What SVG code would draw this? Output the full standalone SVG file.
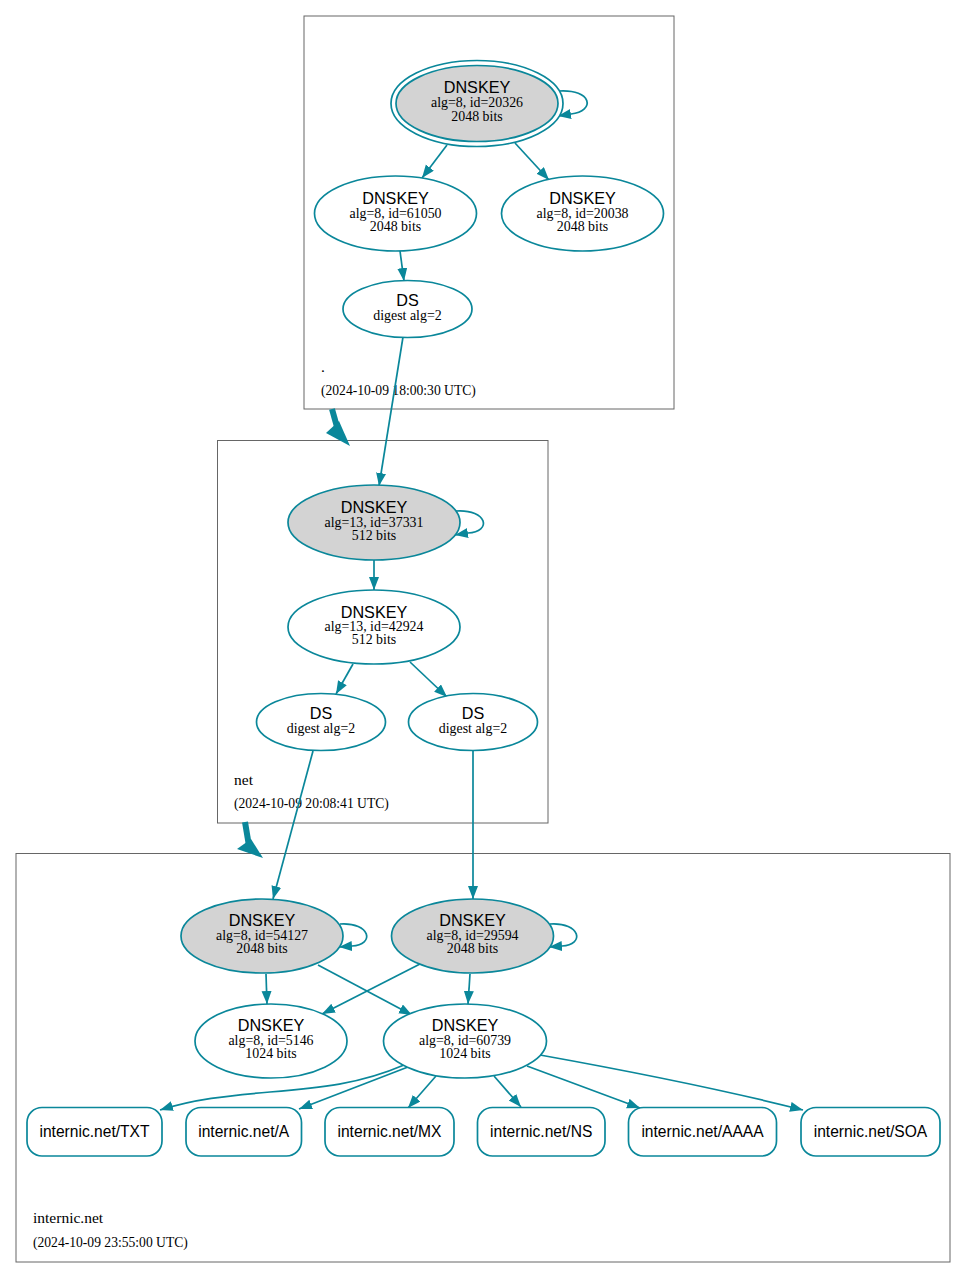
<svg xmlns="http://www.w3.org/2000/svg" width="967" height="1278" viewBox="0 0 967 1278">
<defs>
<style>
.cl{fill:none;stroke:#666;stroke-width:1}
.n{fill:#fff;stroke:#0a879a;stroke-width:1.7}
.k{fill:#d3d3d3;stroke:#0a879a;stroke-width:1.7}
.e{fill:none;stroke:#0a879a;stroke-width:1.7;marker-end:url(#ah)}
.t1{font-family:"Liberation Sans",Arial,sans-serif;font-size:16.2px;fill:#000;text-anchor:middle}
.t2{font-family:"Liberation Serif","Times New Roman",serif;font-size:13.9px;fill:#000;text-anchor:middle}
.tr{font-family:"Liberation Sans",Arial,sans-serif;font-size:15.6px;fill:#000;text-anchor:middle}
.lz{font-family:"Liberation Serif","Times New Roman",serif;font-size:15.5px;fill:#000}
.ld{font-family:"Liberation Serif","Times New Roman",serif;font-size:13.6px;fill:#000}
.big{fill:#0a879a;stroke:none}
</style>
<marker id="ah" markerUnits="userSpaceOnUse" markerWidth="15" markerHeight="11" refX="13" refY="5" orient="auto">
<path d="M0,0 L13,5 L0,10 z" fill="#0a879a"/>
</marker>
</defs>
<rect width="967" height="1278" fill="#fff"/>

<g id="cluster-root">
<rect class="cl" x="304" y="16" width="370" height="393"/>
<text class="lz" x="321" y="372">.</text>
<text class="ld" x="321" y="395">(2024-10-09 18:00:30 UTC)</text>
</g>
<g id="cluster-net">
<rect class="cl" x="217.5" y="440.5" width="330.5" height="382.5"/>
<text class="lz" x="234" y="785">net</text>
<text class="ld" x="234" y="808">(2024-10-09 20:08:41 UTC)</text>
</g>
<g id="cluster-internic">
<rect class="cl" x="16" y="853.5" width="934" height="408.5"/>
<text class="lz" x="33" y="1223">internic.net</text>
<text class="ld" x="33" y="1247">(2024-10-09 23:55:00 UTC)</text>
</g>

<g id="connectors">
<path class="e" d="M559,91 C592,89 596,111 571,114 L558,116"/>
<path class="e" d="M447,145 L422,178"/>
<path class="e" d="M515,143 L549,180"/>
<path class="e" d="M400,251 L404,281"/>
<path class="e" d="M403,337 L379,486"/>
<path class="e" d="M456,511 C488,509 492,532 468,533 L455,535"/>
<path class="e" d="M374,560 L374,590"/>
<path class="e" d="M353,664 L336,694"/>
<path class="e" d="M410,662 L447,697"/>
<path class="e" d="M313,751 L273,899"/>
<path class="e" d="M473,751 L473,899"/>
<path class="e" d="M340,924 C371,922 375,945 352,946 L339,947"/>
<path class="e" d="M550,924 C581,922 585,945 562,946 L549,947"/>
<path class="e" d="M266,974 L267,1004"/>
<path class="e" d="M318,965 L412,1015"/>
<path class="e" d="M420,964 L322,1014"/>
<path class="e" d="M470,974 L468,1004"/>
<path class="e" d="M404,1065 C360,1084 320,1088 270,1092 C225,1096 195,1099 160,1110"/>
<path class="e" d="M408,1067 L299,1109"/>
<path class="e" d="M436,1076 L408,1108"/>
<path class="e" d="M494,1076 L521,1107"/>
<path class="e" d="M527,1066 L640,1108"/>
<path class="e" d="M540,1055 C640,1073 720,1089 803,1110"/>
<path d="M332,409 L337,427" stroke="#0a879a" stroke-width="6" fill="none"/>
<polygon class="big" points="326,433 339,421 350,446"/>
<path d="M245,822 L248.5,843" stroke="#0a879a" stroke-width="6" fill="none"/>
<polygon class="big" points="237,849 251,839 263,858"/>
</g>

<g id="dnskey-20326">
<ellipse class="n" cx="477" cy="103.5" rx="86" ry="43"/>
<ellipse class="k" cx="477" cy="103.5" rx="81" ry="38"/>
<text class="t1" x="477" y="93">DNSKEY</text>
<text class="t2" x="477" y="107">alg=8, id=20326</text>
<text class="t2" x="477" y="120.5">2048 bits</text>
</g>
<g id="dnskey-61050">
<ellipse class="n" cx="395.5" cy="213.5" rx="81" ry="37.5"/>
<text class="t1" x="395.5" y="203.5">DNSKEY</text>
<text class="t2" x="395.5" y="217.5">alg=8, id=61050</text>
<text class="t2" x="395.5" y="230.5">2048 bits</text>
</g>
<g id="dnskey-20038">
<ellipse class="n" cx="582.5" cy="213.5" rx="81" ry="37.5"/>
<text class="t1" x="582.5" y="203.5">DNSKEY</text>
<text class="t2" x="582.5" y="217.5">alg=8, id=20038</text>
<text class="t2" x="582.5" y="230.5">2048 bits</text>
</g>
<g id="ds-root">
<ellipse class="n" cx="407.5" cy="309" rx="64.5" ry="28.5"/>
<text class="t1" x="407.5" y="305.5">DS</text>
<text class="t2" x="407.5" y="320">digest alg=2</text>
</g>

<g id="dnskey-37331">
<ellipse class="k" cx="374" cy="522.5" rx="86" ry="37.5"/>
<text class="t1" x="374" y="513">DNSKEY</text>
<text class="t2" x="374" y="526.5">alg=13, id=37331</text>
<text class="t2" x="374" y="539.5">512 bits</text>
</g>
<g id="dnskey-42924">
<ellipse class="n" cx="374" cy="627" rx="86" ry="37"/>
<text class="t1" x="374" y="617.5">DNSKEY</text>
<text class="t2" x="374" y="631">alg=13, id=42924</text>
<text class="t2" x="374" y="644">512 bits</text>
</g>
<g id="ds-net-1">
<ellipse class="n" cx="321" cy="722" rx="64.5" ry="28.5"/>
<text class="t1" x="321" y="718.5">DS</text>
<text class="t2" x="321" y="733">digest alg=2</text>
</g>
<g id="ds-net-2">
<ellipse class="n" cx="473" cy="722" rx="64.5" ry="28.5"/>
<text class="t1" x="473" y="718.5">DS</text>
<text class="t2" x="473" y="733">digest alg=2</text>
</g>

<g id="dnskey-54127">
<ellipse class="k" cx="262" cy="936" rx="81" ry="37"/>
<text class="t1" x="262" y="926">DNSKEY</text>
<text class="t2" x="262" y="940">alg=8, id=54127</text>
<text class="t2" x="262" y="953">2048 bits</text>
</g>
<g id="dnskey-29594">
<ellipse class="k" cx="472.5" cy="936" rx="81" ry="37"/>
<text class="t1" x="472.5" y="926">DNSKEY</text>
<text class="t2" x="472.5" y="940">alg=8, id=29594</text>
<text class="t2" x="472.5" y="953">2048 bits</text>
</g>
<g id="dnskey-5146">
<ellipse class="n" cx="271" cy="1041" rx="76" ry="37"/>
<text class="t1" x="271" y="1031">DNSKEY</text>
<text class="t2" x="271" y="1045">alg=8, id=5146</text>
<text class="t2" x="271" y="1058">1024 bits</text>
</g>
<g id="dnskey-60739">
<ellipse class="n" cx="465" cy="1041" rx="81.5" ry="37"/>
<text class="t1" x="465" y="1031">DNSKEY</text>
<text class="t2" x="465" y="1045">alg=8, id=60739</text>
<text class="t2" x="465" y="1058">1024 bits</text>
</g>

<g id="rr-txt">
<rect class="n" x="27" y="1107.5" width="135" height="48.5" rx="15"/>
<text class="tr" x="94.5" y="1136.5">internic.net/TXT</text>
</g>
<g id="rr-a">
<rect class="n" x="186" y="1107.5" width="115.5" height="48.5" rx="15"/>
<text class="tr" x="243.7" y="1136.5">internic.net/A</text>
</g>
<g id="rr-mx">
<rect class="n" x="325" y="1107.5" width="129" height="48.5" rx="15"/>
<text class="tr" x="389.5" y="1136.5">internic.net/MX</text>
</g>
<g id="rr-ns">
<rect class="n" x="477.5" y="1107.5" width="127.5" height="48.5" rx="15"/>
<text class="tr" x="541.2" y="1136.5">internic.net/NS</text>
</g>
<g id="rr-aaaa">
<rect class="n" x="628.5" y="1107.5" width="148" height="48.5" rx="15"/>
<text class="tr" x="702.5" y="1136.5">internic.net/AAAA</text>
</g>
<g id="rr-soa">
<rect class="n" x="801" y="1107.5" width="139" height="48.5" rx="15"/>
<text class="tr" x="870.5" y="1136.5">internic.net/SOA</text>
</g>
</svg>
